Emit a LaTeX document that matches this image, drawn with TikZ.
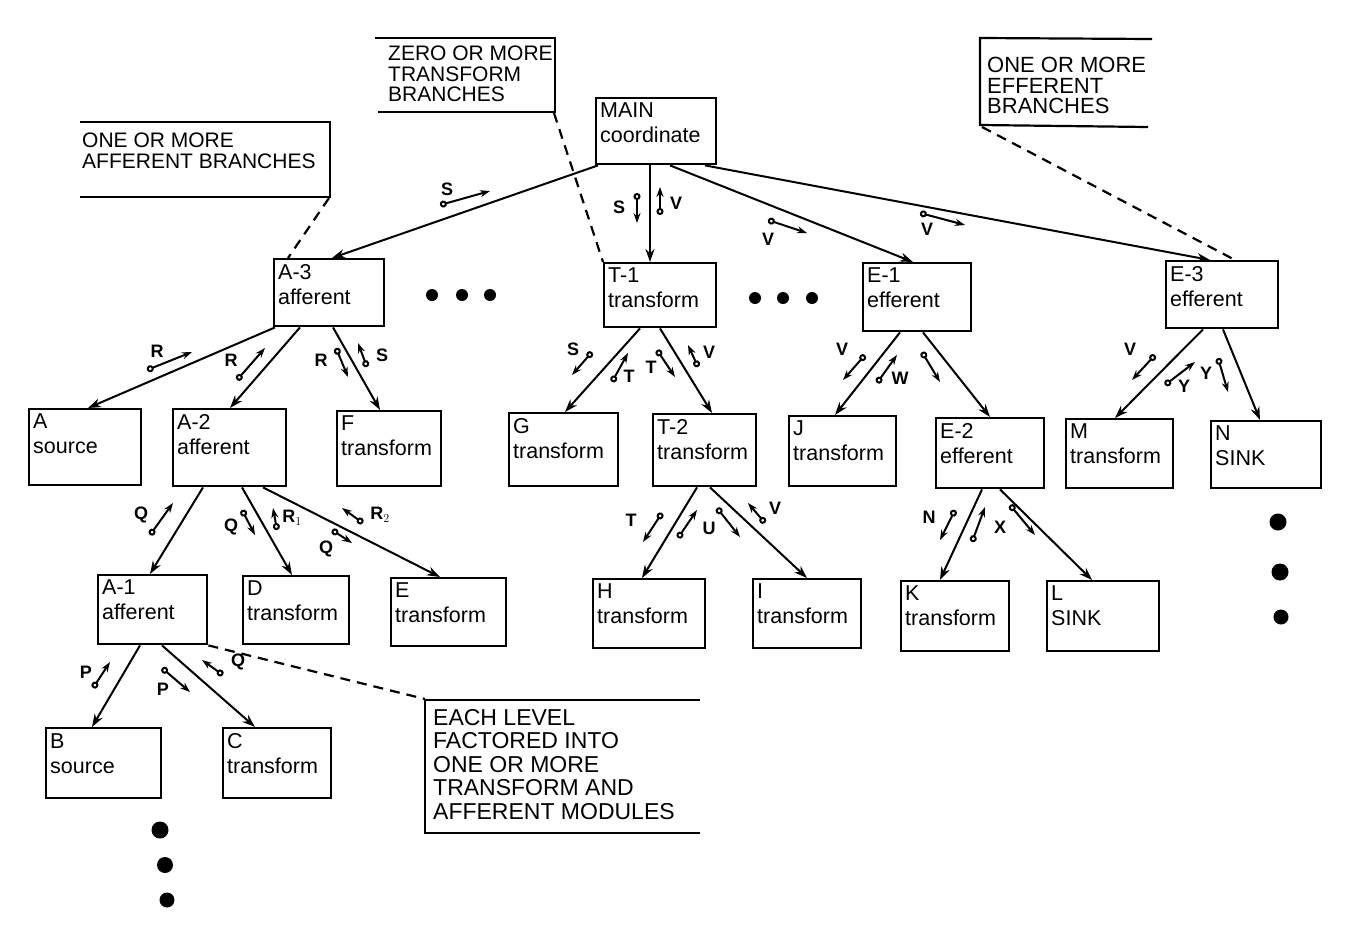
\documentclass[tikz,border=0pt]{standalone}
\usepackage{fontspec}
\setmainfont{Liberation Sans}
\usetikzlibrary{arrows.meta,calc}
\newcommand\boxfnt{\fontsize{21.5}{25}\selectfont}
\newcommand\calfnt{\fontsize{21}{20.5}\selectfont}
\newcommand\cplfnt{\fontsize{18}{18}\selectfont\bfseries}
\tikzset{
  box/.style={draw, line width=2.4pt, anchor=north west, inner sep=0pt},
  btext/.style={anchor=north west, align=left, inner sep=1pt, font=\boxfnt},
  conn/.style={line width=2pt, -{Stealth[length=13pt,width=9pt]}},
  couple/.style={line width=2pt, {Circle[open,length=7pt,width=7pt]}-{Stealth[length=10pt,width=7pt]}},
  clab/.style={inner sep=0pt, font=\cplfnt},
  callout/.style={line width=2.2pt},
  caltext/.style={anchor=north west, align=left, inner sep=0pt, font=\calfnt},
  dashline/.style={line width=2.2pt, dash pattern=on 10pt off 7pt},
  bigdot/.style={fill, circle, inner sep=0pt, minimum size=#1},
  bigdot/.default=12pt
}
\newcommand\modbox[6]{%
  \node[box, minimum width=#4pt, minimum height=#5pt] (#1) at (#2,#3) {};
  \node[btext] (#1t) at ($(#1.north west)+(4,5)$) {#6};}
\begin{document}
\begin{tikzpicture}[x=1pt,y=-1pt]
\fill[white] (0,0) rectangle (1350,945);
\useasboundingbox (0,0) rectangle (1350,945);

% modules
\modbox{main}{595}{97}{120}{66}{MAIN\\coordinate}
\modbox{a3}{273}{258}{110}{67}{A-3\\afferent}
\modbox{t1}{603}{262}{112}{64}{T-1\\transform}
\modbox{e1}{862}{262}{108}{68}{E-1\\efferent}
\modbox{e3}{1165}{260}{112}{67}{E-3\\efferent}
\modbox{asrc}{28}{408}{112}{76}{A\\source}
\modbox{a2}{172}{408}{113}{77}{A-2\\afferent}
\modbox{f}{336}{410}{104}{75}{F\\transform}
\modbox{g}{508}{412}{109}{73}{G\\transform}
\modbox{t2}{652}{413}{103}{72}{T-2\\transform}
\modbox{j}{788}{415}{107}{70}{J\\transform}
\modbox{e2}{935}{417}{108}{70}{E-2\\efferent}
\modbox{m}{1065}{418}{107}{69}{M\\transform}
\modbox{n}{1210}{420}{110}{67}{N\\SINK}
\modbox{a1}{97}{574}{109}{69}{A-1\\afferent}
\modbox{d}{242}{575}{106}{68}{D\\transform}
\modbox{e}{390}{577}{115}{68}{E\\transform}
\modbox{h}{592}{578}{112}{69}{H\\transform}
\modbox{i}{752}{578}{108}{69}{I\\transform}
\modbox{k}{900}{580}{108}{70}{K\\transform}
\modbox{l}{1046}{580}{112}{70}{L\\SINK}
\modbox{b}{45}{727}{115}{70}{B\\source}
\modbox{c}{222}{727}{108}{70}{C\\transform}

% connectors
\draw[conn] ($(main.south west)+(3,0)$) -- ($(a3.north west)+(59,0)$);
\draw[conn] ($(main.south west)+(55,0)$) -- ($(t1.north west)+(47,0)$);
\draw[conn] ($(main.south west)+(75,0)$) -- ($(e1.north west)+(51,0)$);
\draw[conn] ($(main.south west)+(110,0)$) -- ($(e3.north west)+(45,0)$);
\draw[conn] ($(a3.south west)+(2,0)$) -- ($(asrc.north west)+(60,0)$);
\draw[conn] ($(a3.south west)+(27,0)$) -- ($(a2.north west)+(58,0)$);
\draw[conn] ($(a3.south west)+(60,0)$) -- ($(f.north west)+(44,0)$);
\draw[conn] ($(t1.south west)+(37,0)$) -- ($(g.north west)+(57,0)$);
\draw[conn] ($(t1.south west)+(57,0)$) -- ($(t2.north west)+(60,0)$);
\draw[conn] ($(e1.south west)+(38,0)$) -- ($(j.north west)+(47,0)$);
\draw[conn] ($(e1.south west)+(61,0)$) -- ($(e2.north west)+(55,0)$);
\draw[conn] ($(e3.south west)+(38,0)$) -- ($(m.north west)+(50,0)$);
\draw[conn] ($(e3.south west)+(58,0)$) -- ($(n.north west)+(50,0)$);
\draw[conn] ($(a2.south west)+(31,0)$) -- ($(a1.north west)+(53,0)$);
\draw[conn] ($(a2.south west)+(70,0)$) -- ($(d.north west)+(50,0)$);
\draw[conn] ($(a2.south west)+(91,0)$) -- ($(e.north west)+(50,0)$);
\draw[conn] ($(a1.south west)+(43,0)$) -- ($(b.north west)+(47,0)$);
\draw[conn] ($(a1.south west)+(65,0)$) -- ($(c.north west)+(33,0)$);
\draw[conn] ($(t2.south west)+(45,0)$) -- ($(h.north west)+(50,0)$);
\draw[conn] ($(t2.south west)+(58,0)$) -- ($(i.north west)+(55,0)$);
\draw[conn] ($(e2.south west)+(47,0)$) -- ($(k.north west)+(40,0)$);
\draw[conn] ($(e2.south west)+(65,0)$) -- ($(l.north west)+(46,0)$);

% data couples
\draw[couple] (440,205) -- (490,191); \node[clab] (cp1) at (447,189) {S};
\draw[couple] (637,193) -- (637,223); \node[clab] (cp2) at (619,207) {S};
\draw[couple] (660,215) -- (660,187); \node[clab] (cp3) at (676,203) {V};
\draw[couple] (768,220) -- (807,233); \node[clab] (cp4) at (768,239) {V};
\draw[couple] (920,213) -- (965,225); \node[clab] (cp5) at (927,229) {V};
\draw[couple] (147,370) -- (192,352); \node[clab] (cp6) at (157,351) {R};
\draw[couple] (237,380) -- (265,348); \node[clab] (cp7) at (231,360) {R};
\draw[couple] (336,348) -- (348,377); \node[clab] (cp8) at (321,360) {R};
\draw[couple] (367,367) -- (358,343); \node[clab] (cp9) at (382,355) {S};
\draw[couple] (592,352) -- (572,375); \node[clab] (cp10) at (573,349) {S};
\draw[couple] (612,382) -- (628,353); \node[clab] (cp11) at (629,376) {T};
\draw[couple] (657,350) -- (675,377); \node[clab] (cp12) at (651,367) {T};
\draw[couple] (698,367) -- (688,345); \node[clab] (cp13) at (709,352) {V};
\draw[couple] (865,355) -- (843,380); \node[clab] (cp14) at (842,349) {V};
\draw[couple] (877,383) -- (897,355); \node[clab] (cp15) at (900,378) {W};
\draw[couple] (922,352) -- (940,382);
\draw[couple] (1155,355) -- (1132,380); \node[clab] (cp17) at (1130,349) {V};
\draw[couple] (1165,385) -- (1195,362); \node[clab] (cp18) at (1184,386) {Y};
\draw[couple] (1218,358) -- (1228,392); \node[clab] (cp19) at (1206,373) {Y};
\draw[couple] (150,535) -- (173,503); \node[clab] (cp20) at (141,515) {Q};
\draw[couple] (242,510) -- (255,535); \node[clab] (cp21) at (231,527) {Q};
\draw[couple] (277,530) -- (273,508); \node[clab] (cp22) at (292,518) {R$_{1}$};
\draw[couple] (363,523) -- (342,508); \node[clab] (cp23) at (380,515) {R$_{2}$};
\draw[couple] (332,530) -- (352,543); \node[clab] (cp24) at (326,549) {Q};
\draw[couple] (93,688) -- (110,662); \node[clab] (cp25) at (86,672) {P};
\draw[couple] (162,668) -- (190,692); \node[clab] (cp26) at (163,689) {P};
\draw[couple] (223,675) -- (202,660); \node[clab] (cp27) at (238,662) {Q};
\draw[couple] (662,513) -- (643,542); \node[clab] (cp28) at (631,520) {T};
\draw[couple] (678,538) -- (697,510); \node[clab] (cp29) at (709,528) {U};
\draw[couple] (717,508) -- (740,537);
\draw[couple] (765,523) -- (748,503); \node[clab] (cp31) at (775,508) {V};
\draw[couple] (955,510) -- (940,540); \node[clab] (cp32) at (929,517) {N};
\draw[couple] (972,542) -- (985,507); \node[clab] (cp33) at (1000,527) {X};
\draw[couple] (1010,505) -- (1035,535);

% callouts
\node[caltext] (calA) at (82,133) {ONE OR MORE\\AFFERENT BRANCHES};
\draw[callout] (80,122) -- (330,122) -- (330,197) -- (80,197);
\coordinate (calAp) at (329,198);
\draw[dashline] (calAp) -- ($(a3.north west)+(15,0)$);

\node[caltext] (calT) at (388,46) {ZERO OR MORE\\TRANSFORM\\BRANCHES};
\draw[callout] (375,38) -- (555,38) -- (555,112) -- (378,112);
\coordinate (calTp) at (554,113);
\draw[dashline] (calTp) -- (t1.north west);

\node[caltext, font=\fontsize{22}{20.5}\selectfont] (calE) at (987,57) {ONE OR MORE\\EFFERENT\\BRANCHES};
\draw[callout] (1152,39) -- (980,38) -- (980,125) -- (1148,127);
\coordinate (calEp) at (982,127);
\draw[dashline] (calEp) -- ($(e3.north west)+(70,0)$);

\node[caltext, font=\fontsize{23}{23.5}\selectfont] (calL) at (433,709) {EACH LEVEL\\FACTORED INTO\\ONE OR MORE\\TRANSFORM AND\\AFFERENT MODULES};
\draw[callout] (700,700) -- (425,700) -- (425,833) -- (700,833);
\coordinate (calLp) at (425,699);
\draw[dashline] (a1.south east) -- (calLp);

% continuation dots
\node[bigdot] (d1) at (432,295) {};
\node[bigdot] (d2) at (462,295) {};
\node[bigdot] (d3) at (490,295) {};
\node[bigdot] (d4) at (755,298) {};
\node[bigdot] (d5) at (783,298) {};
\node[bigdot] (d6) at (812,298) {};
\node[bigdot=17pt] (d7) at (1278,522) {};
\node[bigdot=17pt] (d8) at (1280,572) {};
\node[bigdot=15pt] (d9) at (1281,617) {};
\node[bigdot=17pt] (d10) at (160,830) {};
\node[bigdot=16pt] (d11) at (165,865) {};
\node[bigdot=15pt] (d12) at (167,900) {};
\end{tikzpicture}
\end{document}
